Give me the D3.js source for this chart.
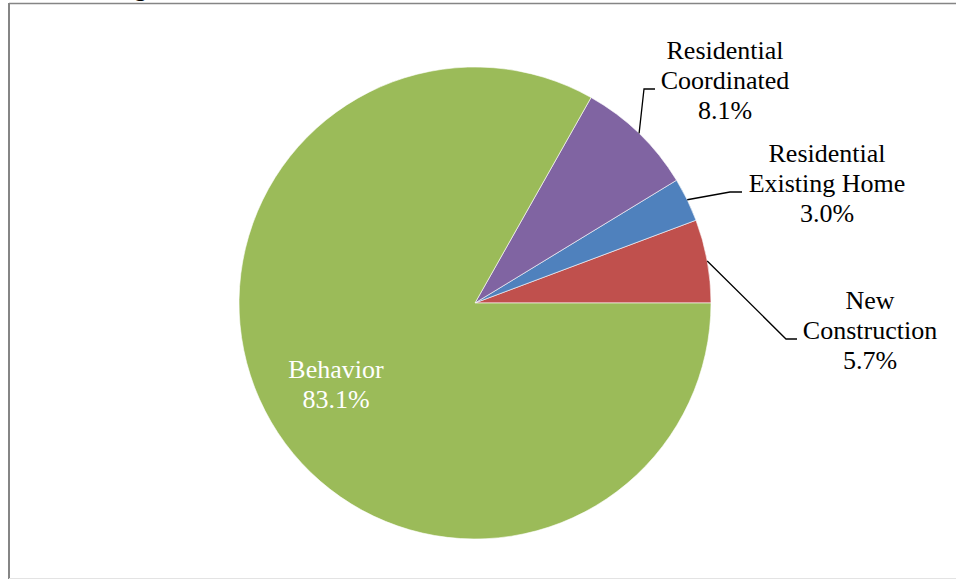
<!DOCTYPE html>
<html>
<head>
<meta charset="utf-8">
<script src="https://cdn.jsdelivr.net/npm/d3@7"></script>
<style>
  html, body { margin: 0; padding: 0; background: #fff; }
  svg { display: block; }
  text { font-family: "Liberation Serif", "Times New Roman", serif; }
</style>
</head>
<body>
<svg id="chart" width="956" height="579"></svg>
<script>
// Program shares (percent), listed counter-clockwise from 3 o'clock
const programs = ["New Construction", "Residential Existing Home", "Residential Coordinated", "Behavior"];
const shares = [5.7, 3.0, 8.1, 83.1];
const labelLines = [
  ["New", "Construction"],
  ["Residential", "Existing Home"],
  ["Residential", "Coordinated"],
  ["Behavior"]
];
const colors = ["#C0504D", "#4F81BD", "#8064A2", "#9BBB59"];

const W = 956, H = 579;
const cx = 475, cy = 303, R = 236;

const svg = d3.select("#chart");

// chart frame
svg.append("line").attr("x1", 9).attr("x2", W).attr("y1", 3.5).attr("y2", 3.5)
  .attr("stroke", "#858585").attr("stroke-width", 1.6);
svg.append("line").attr("x1", 9).attr("x2", 9).attr("y1", 3).attr("y2", H)
  .attr("stroke", "#858585").attr("stroke-width", 2);
svg.append("line").attr("x1", 9).attr("x2", W).attr("y1", 578.5).attr("y2", 578.5)
  .attr("stroke", "#e3e3e3").attr("stroke-width", 1);

// tail of the heading that sits above the frame
svg.append("text").attr("x", 134).attr("y", -4)
  .attr("font-size", 26).attr("fill", "#000").text("g");

const data = programs.map((p, i) => ({ name: p, value: shares[i], lines: labelLines[i], color: colors[i] }));

const pie = d3.pie().sort(null).value(d => d.value)
  .startAngle(Math.PI / 2).endAngle(Math.PI / 2 - 2 * Math.PI);
const arcs = pie(data);
const arc = d3.arc().innerRadius(0).outerRadius(R);

const g = svg.append("g").attr("transform", `translate(${cx},${cy})`);
g.selectAll("path.slice").data(arcs).join("path")
  .attr("class", "slice")
  .attr("d", arc)
  .attr("fill", d => d.data.color)
  .attr("stroke", "#ffffff")
  .attr("stroke-width", 0.6);

// label placement: text centre x, first baseline y, leader elbow (absolute)
const labelLayout = [
  { x: 870, y: 309, elbow: [786, 339], end: [797, 339] },
  { x: 827, y: 162, elbow: [730, 192], end: [742, 192] },
  { x: 725, y: 59,  elbow: [644, 89],  end: [655, 89] },
  { x: 336, y: 378, fill: "#ffffff" }
];
const lineH = 30;
const fmt = v => v.toFixed(1) + "%";

arcs.forEach((a, i) => {
  const L = labelLayout[i];
  if (L.elbow) {
    const mid = (a.startAngle + a.endAngle) / 2;
    const px = cx + R * Math.sin(mid), py = cy - R * Math.cos(mid);
    svg.append("path")
      .attr("d", d3.line()([[px, py], L.elbow, L.end]))
      .attr("fill", "none").attr("stroke", "#000").attr("stroke-width", 1.3);
  }
  const t = svg.append("text")
    .attr("text-anchor", "middle")
    .attr("font-size", 26)
    .attr("fill", L.fill || "#000");
  const rows = a.data.lines.concat([fmt(a.data.value)]);
  rows.forEach((s, k) => {
    t.append("tspan").attr("x", L.x).attr("y", L.y + k * lineH)
      .attr("xml:space", "preserve").text(s);
  });
});
</script>
</body>
</html>
